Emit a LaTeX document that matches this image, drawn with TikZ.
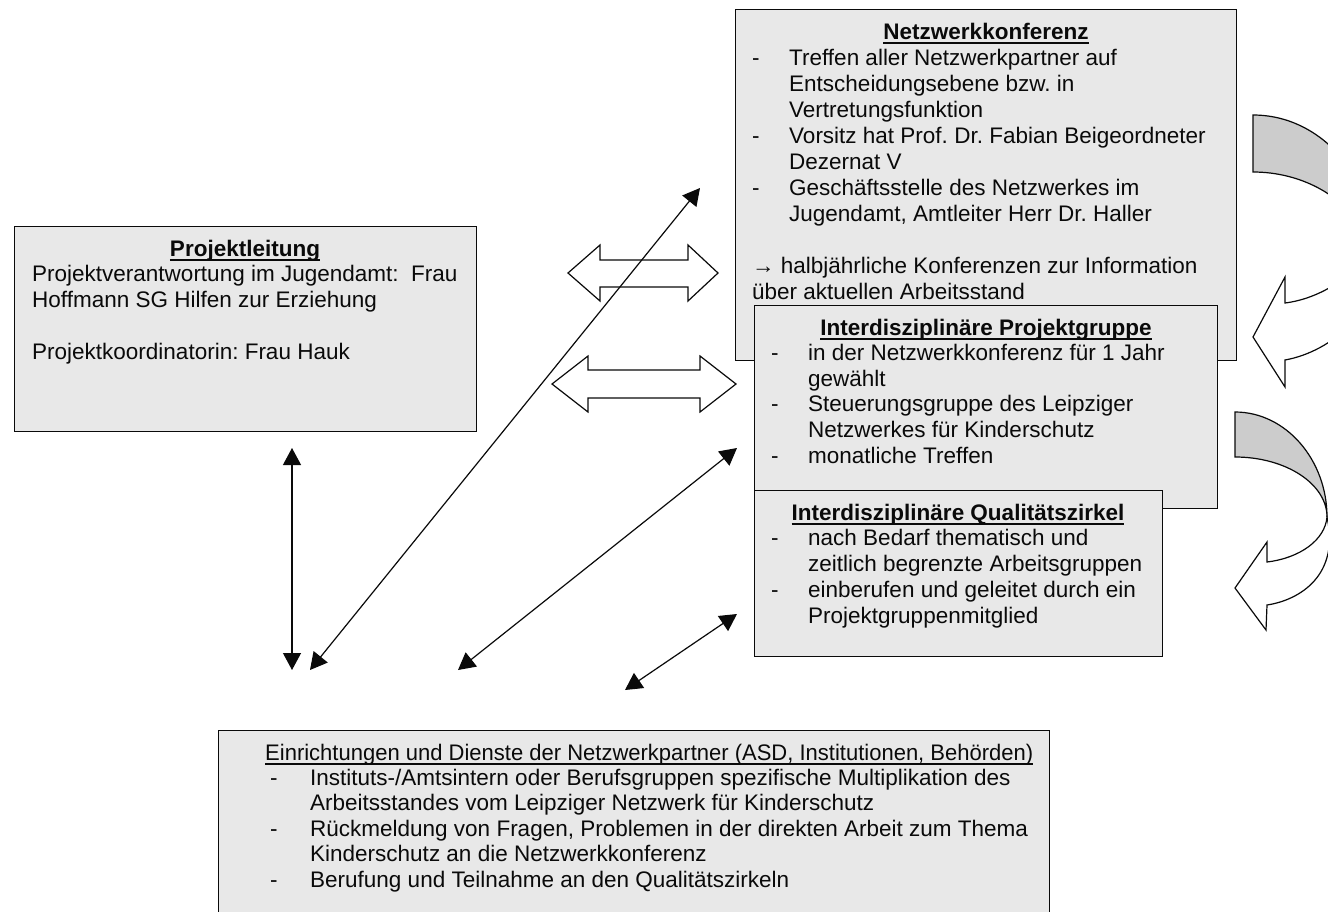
\documentclass[tikz,border=0pt]{standalone}
\usepackage{fontspec}
\setmainfont{Liberation Sans}
\usetikzlibrary{arrows.meta}
\definecolor{boxfill}{HTML}{E8E8E8}
\definecolor{arrfill}{HTML}{CCCCCC}
\definecolor{ink}{HTML}{0A0A0A}
\newcommand\ttlu[1]{\setbox0\hbox{#1}\rlap{\rule[-4.5pt]{\wd0}{2pt}}\box0}
\newcommand\dsh[1]{\makebox[#1][l]{-}}
\begin{document}
\begin{tikzpicture}[x=1pt,y=-1pt,
  box/.style={draw=ink, line width=1.4pt, fill=boxfill, anchor=north west, inner sep=0pt},
  txt/.style={anchor=base west, inner sep=0pt, text=ink},
  ttl/.style={anchor=base, inner sep=0pt, text=ink, font=\fontsize{22.5}{26}\selectfont\bfseries\frenchspacing},
  conn/.style={draw=ink, line width=1.2pt, {Triangle[length=17pt,width=18pt]}-{Triangle[length=17pt,width=18pt]}},
  blockarrow/.style={draw=ink, line width=1.2pt, fill=white},
  backpart/.style={draw=ink, line width=1.2pt, fill=arrfill},
  frontpart/.style={draw=ink, line width=1.2pt, fill=white}]
\useasboundingbox (0,0) rectangle (1328,911);
\fill[white] (0,0) rectangle (1328,911);
\clip (0,0) rectangle (1328,911);

% Netzwerkkonferenz
\node[box, minimum width=501pt, minimum height=351pt] (nk) at (735,9) {};
\node[ttl] (nkh) at (986,39) {\ttlu{Netzwerkkonferenz}};
\node[txt, font=\fontsize{22.5}{26}\selectfont\frenchspacing] (nkt) at (752,65) {\begin{minipage}[t]{560pt}%
\dsh{37pt}Treffen aller Netzwerkpartner auf\\
\hspace*{37pt}Entscheidungsebene bzw. in\\
\hspace*{37pt}Vertretungsfunktion\\
\dsh{37pt}Vorsitz hat Prof. Dr. Fabian Beigeordneter\\
\hspace*{37pt}Dezernat V\\
\dsh{37pt}Geschäftsstelle des Netzwerkes im\\
\hspace*{37pt}Jugendamt, Amtleiter Herr Dr. Haller\\[26pt]
→ halbjährliche Konferenzen zur Information\\
über aktuellen Arbeitsstand\end{minipage}};

% Interdisziplinaere Projektgruppe
\node[box, minimum width=463pt, minimum height=203pt] (pg) at (754,305) {};
\node[ttl] (pgh) at (986,335) {\ttlu{Interdisziplinäre Projektgruppe}};
\node[txt, font=\fontsize{22.5}{25.6}\selectfont\frenchspacing] (pgt) at (771,360.6) {\begin{minipage}[t]{560pt}%
\dsh{37pt}in der Netzwerkkonferenz für 1 Jahr\\
\hspace*{37pt}gewählt\\
\dsh{37pt}Steuerungsgruppe des Leipziger\\
\hspace*{37pt}Netzwerkes für Kinderschutz\\
\dsh{37pt}monatliche Treffen\end{minipage}};

% Interdisziplinaere Qualitaetszirkel
\node[box, minimum width=408pt, minimum height=166pt] (qz) at (754,490) {};
\node[ttl] (qzh) at (958,520) {\ttlu{Interdisziplinäre Qualitätszirkel}};
\node[txt, font=\fontsize{22.5}{25.75}\selectfont\frenchspacing] (qzt) at (771,545.75) {\begin{minipage}[t]{560pt}%
\dsh{37pt}nach Bedarf thematisch und\\
\hspace*{37pt}zeitlich begrenzte Arbeitsgruppen\\
\dsh{37pt}einberufen und geleitet durch ein\\
\hspace*{37pt}Projektgruppenmitglied\end{minipage}};

% Projektleitung
\node[box, minimum width=462pt, minimum height=205pt] (pl) at (14,226) {};
\node[ttl] (plh) at (245,256) {\ttlu{Projektleitung}};
\node[txt, font=\fontsize{22.5}{26}\selectfont\frenchspacing] (plt) at (32,281) {\begin{minipage}[t]{560pt}%
Projektverantwortung im Jugendamt:\ \ Frau\\
Hoffmann SG Hilfen zur Erziehung\\[26pt]
Projektkoordinatorin: Frau Hauk\end{minipage}};

% Einrichtungen und Dienste
\node[box, minimum width=831pt, minimum height=190pt] (ed) at (218,730) {};
\node[txt, font=\fontsize{22.5}{25.4}\selectfont\frenchspacing] (edh) at (265,760) {\ttlu{\scalebox{0.978}[1]{Einrichtungen und Dienste der Netzwerkpartner (ASD, Institutionen, Behörden)}}};
\node[txt, font=\fontsize{22.5}{25.4}\selectfont\frenchspacing] (edt) at (270,785.4) {\begin{minipage}[t]{800pt}%
\dsh{40pt}Instituts-/Amtsintern oder Berufsgruppen spezifische Multiplikation des\\
\hspace*{40pt}Arbeitsstandes vom Leipziger Netzwerk für Kinderschutz\\
\dsh{40pt}Rückmeldung von Fragen, Problemen in der direkten Arbeit zum Thema\\
\hspace*{40pt}Kinderschutz an die Netzwerkkonferenz\\
\dsh{40pt}Berufung und Teilnahme an den Qualitätszirkeln\end{minipage}};

% block double arrows
\draw[blockarrow] (568,273) -- (600,245) -- (600,260) -- (688,260) -- (688,245) -- (718,273)
  -- (688,301) -- (688,287) -- (600,287) -- (600,301) -- cycle;
\draw[blockarrow] (552,384) -- (588,356) -- (588,370) -- (700,370) -- (700,356) -- (736,384)
  -- (700,412) -- (700,398) -- (588,398) -- (588,412) -- cycle;

% connectors
\coordinate (v1) at (292,448);
\coordinate (v2) at (292,670);
\coordinate (d1a) at (310,670);
\coordinate (d1b) at (700,188);
\coordinate (d2a) at (458,670);
\coordinate (d2b) at (737,448);
\coordinate (d3a) at (625,690);
\coordinate (d3b) at (737,614);
\draw[conn] (v1) -- (v2);
\draw[conn] (d1a) -- (d1b);
\draw[conn] (d2a) -- (d2b);
\draw[conn] (d3a) -- (d3b);

% curved arrow 1 (upper)
\draw[backpart] (1253,115) -- (1253,172) .. controls (1300,172) and (1350,195) .. (1373,247)
  .. controls (1373,175) and (1320,115) .. (1253,115) -- cycle;
\draw[frontpart] (1373,247) .. controls (1360,270) and (1325,298) .. (1285,303) -- (1285,277)
  -- (1253,337) -- (1285,387) -- (1285,360) .. controls (1330,352) and (1385,310) .. (1373,247) -- cycle;

% curved arrow 2 (lower)
\draw[backpart] (1235,412) -- (1235,457) .. controls (1286,457) and (1327,484) .. (1327,517)
  .. controls (1327,460) and (1286,412) .. (1235,412) -- cycle;
\draw[frontpart] (1327,517) .. controls (1325,540) and (1300,558) .. (1267,562) -- (1267,542)
  -- (1235,588) -- (1266,630) -- (1267,605) .. controls (1300,600) and (1340,575) .. (1327,517) -- cycle;
\end{tikzpicture}
\end{document}
